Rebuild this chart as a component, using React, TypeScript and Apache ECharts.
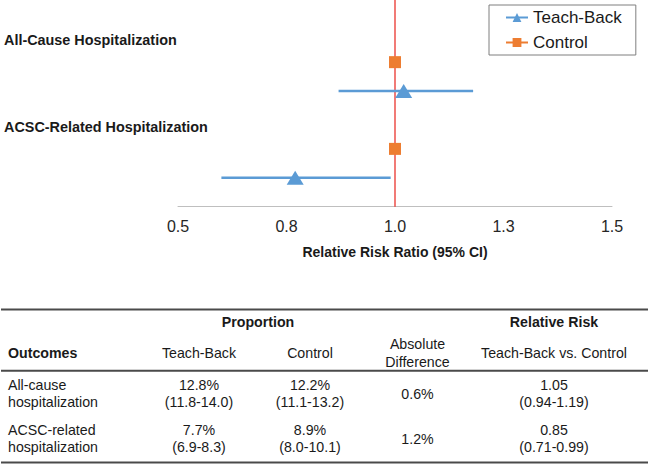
import React, { useEffect, useRef } from "react";
import * as echarts from "echarts";

// ---- Forest plot data ----
const outcomeLabels = ["All-Cause Hospitalization", "ACSC-Related Hospitalization"];
const teachBackRR = [1.02, 0.77];
const teachBackLow = [0.87, 0.6];
const teachBackHigh = [1.18, 0.99];
const controlRR = [1.0, 1.0];
const teachBackSlot = [4, 1];
const controlSlot = [5, 2];
const xTickMin = 0.5;
const xTickMax = 1.5;
const xTickStep = 0.25;
const referenceValue = 1.0;
const slotMin = 0;
const slotMax = 7.15;
const seriesNames = ["Teach-Back", "Control"];
const xAxisTitle = "Relative Risk Ratio (95% CI)";

// ---- Table data ----
const tableGroupHeaders = ["Proportion", "Relative Risk"];
const tableColumnHeaders = ["Outcomes", "Teach-Back", "Control", "Absolute\nDifference", "Teach-Back vs. Control"];
const tableOutcomes = [["All-cause", "hospitalization"], ["ACSC-related", "hospitalization"]];
const teachBackProportion = ["12.8%", "7.7%"];
const teachBackProportionCI = ["(11.8-14.0)", "(6.9-8.3)"];
const controlProportion = ["12.2%", "8.9%"];
const controlProportionCI = ["(11.1-13.2)", "(8.0-10.1)"];
const absoluteDifference = ["0.6%", "1.2%"];
const relativeRisk = ["1.05", "0.85"];
const relativeRiskCI = ["(0.94-1.19)", "(0.71-0.99)"];

const FONT = "'Liberation Sans', Arial, Helvetica, sans-serif";
const BLUE = "#5b9bd5";
const ORANGE = "#ed7d31";
const RED = "#e8221b";
const TXT = "#1a1a1a";

function txt(text: string, x: number, y: number, opts: any = {}) {
  return {
    type: "text",
    x,
    y,
    silent: true,
    style: {
      text,
      align: opts.align || "center",
      verticalAlign: "middle",
      fontSize: opts.fontSize || 14.2,
      fontWeight: opts.bold ? "bold" : "normal",
      fontFamily: FONT,
      fill: TXT,
      lineHeight: opts.lineHeight || 18,
    },
  };
}

function hline(y: number) {
  return {
    type: "line",
    silent: true,
    shape: { x1: 1, y1: y, x2: 648, y2: y },
    style: { stroke: "#4a4a4a", lineWidth: 2 },
  };
}

export default function App() {
  const ref = useRef<HTMLDivElement>(null);

  useEffect(() => {
    if (!ref.current) return;
    const chart = echarts.init(ref.current, null, { renderer: "svg" });

    const colX = [8, 199, 310, 417.5, 554];
    const rowTop = [385, 430];
    const graphics: any[] = [];
    graphics.push(txt(outcomeLabels[0], 4, 40, { align: "left", bold: true, fontSize: 14.4 }));
    graphics.push(txt(outcomeLabels[1], 4, 126.7, { align: "left", bold: true, fontSize: 14.4 }));
    graphics.push(hline(309.5));
    graphics.push(hline(370.7));
    graphics.push(hline(462.5));
    graphics.push(txt(tableGroupHeaders[0], 258, 321.7, { bold: true }));
    graphics.push(txt(tableGroupHeaders[1], colX[4], 321.7, { bold: true }));
    graphics.push(txt(tableColumnHeaders[0], colX[0], 352.7, { align: "left", bold: true }));
    graphics.push(txt(tableColumnHeaders[1], colX[1], 352.7));
    graphics.push(txt(tableColumnHeaders[2], colX[2], 352.7));
    graphics.push(txt(tableColumnHeaders[3], colX[3], 353.3));
    graphics.push(txt(tableColumnHeaders[4], colX[4], 352.7));
    tableOutcomes.forEach((o, i) => {
      const y1 = rowTop[i];
      const y2 = rowTop[i] + 17.3;
      const ym = (y1 + y2) / 2;
      graphics.push(txt(o[0], colX[0], y1, { align: "left" }));
      graphics.push(txt(o[1], colX[0], y2, { align: "left" }));
      graphics.push(txt(teachBackProportion[i], colX[1], y1));
      graphics.push(txt(teachBackProportionCI[i], colX[1], y2));
      graphics.push(txt(controlProportion[i], colX[2], y1));
      graphics.push(txt(controlProportionCI[i], colX[2], y2));
      graphics.push(txt(absoluteDifference[i], colX[3], ym));
      graphics.push(txt(relativeRisk[i], colX[4], y1));
      graphics.push(txt(relativeRiskCI[i], colX[4], y2));
    });

    const option: any = {
      animation: false,
      textStyle: { fontFamily: FONT },
      grid: { left: 178, right: 37, top: 0, bottom: 257.3, containLabel: false },
      xAxis: {
        type: "value",
        min: xTickMin,
        max: xTickMax,
        interval: xTickStep,
        axisLine: { show: true, lineStyle: { color: "#bfbfbf", width: 1 } },
        axisTick: { show: false },
        splitLine: { show: false },
        axisLabel: {
          formatter: (v: number) => v.toFixed(1),
          fontSize: 16,
          color: "#262626",
          margin: 12,
          fontFamily: FONT,
        },
        name: xAxisTitle,
        nameLocation: "middle",
        nameGap: 38,
        nameTextStyle: { fontWeight: "bold", fontSize: 14, color: TXT, fontFamily: FONT },
      },
      yAxis: { type: "value", min: slotMin, max: slotMax, show: false },
      legend: {
        orient: "vertical",
        left: 489,
        top: 5,
        padding: [4, 14, 4, 16],
        itemWidth: 22,
        itemHeight: 11,
        itemGap: 8,
        borderColor: "#7f7f7f",
        borderWidth: 1,
        data: seriesNames,
        lineStyle: { opacity: 1, width: 2 },
        textStyle: { fontSize: 17, color: TXT, fontFamily: FONT },
      },
      graphic: graphics,
      series: [
        {
          type: "line",
          name: "Reference",
          silent: true,
          z: 1,
          symbol: "none",
          data: [
            [referenceValue, slotMin],
            [referenceValue, slotMax],
          ],
          lineStyle: { color: RED, width: 1.2 },
        },
        {
          type: "custom",
          name: "CI",
          silent: true,
          z: 2,
          encode: { x: [0, 1], y: 2 },
          data: teachBackLow.map((l, i) => [l, teachBackHigh[i], teachBackSlot[i]]),
          renderItem: (params: any, api: any) => {
            const s = api.coord([api.value(0), api.value(2)]);
            const e = api.coord([api.value(1), api.value(2)]);
            return {
              type: "line",
              shape: { x1: s[0], y1: s[1], x2: e[0], y2: e[1] },
              style: { stroke: BLUE, lineWidth: 2.5 },
            };
          },
        },
        {
          type: "line",
          name: seriesNames[0],
          z: 4,
          data: teachBackRR.map((v, i) => [v, teachBackSlot[i]]),
          symbol: "triangle",
          symbolSize: [17, 14],
          itemStyle: { color: BLUE },
          lineStyle: { color: BLUE, width: 2, opacity: 0 },
        },
        {
          type: "line",
          name: seriesNames[1],
          z: 4,
          data: controlRR.map((v, i) => [v, controlSlot[i]]),
          symbol: "rect",
          symbolSize: 12,
          itemStyle: { color: ORANGE },
          lineStyle: { color: ORANGE, width: 2, opacity: 0 },
        },
      ],
    };
    chart.setOption(option);
    return () => chart.dispose();
  }, []);

  return (
    <div
      ref={ref}
      style={{ position: "absolute", left: 0, top: 0, width: 649, height: 464, background: "#fff" }}
    />
  );
}
